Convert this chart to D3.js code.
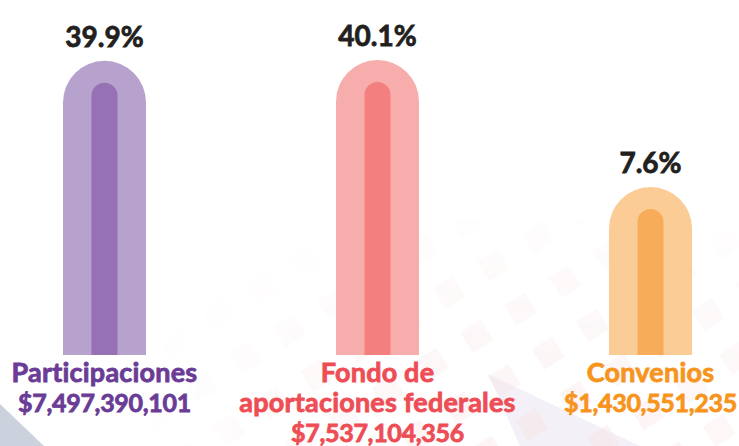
<!DOCTYPE html>
<html>
<head>
<meta charset="utf-8">
<script src="https://cdn.jsdelivr.net/npm/d3@7/dist/d3.min.js"></script>
<style>
  html, body { margin: 0; padding: 0; background: #ffffff; }
  svg { display: block; }
  text { font-family: Lato, "Open Sans", sans-serif; font-weight: 700; }
</style>
</head>
<body>
<div id="chart"></div>
<script>
var categories = ["Participaciones", "Fondo de aportaciones federales", "Convenios"];
var labelLines = [["Participaciones"], ["Fondo de", "aportaciones federales"], ["Convenios"]];
var amounts = ["$7,497,390,101", "$7,537,104,356", "$1,430,551,235"];
var percents = [39.9, 40.1, 7.6];

var outerColors = ["#b39dca", "#f7a9a8", "#fbc990"];
var innerColors = ["#946fb2", "#f27c7c", "#f7aa55"];
var textColors = ["#6a3c96", "#ee4d55", "#f7941d"];

function init() {
    var w = 739;
    var h = 446;
    var baseY = 355;
    var outerW = 83;
    var innerW = 26;
    var innerGap = 22;

    var svg = d3.select("#chart")
        .append("svg")
        .attr("width", w)
        .attr("height", h);

    // faint background decoration (not data)
    var defs = svg.append("defs");
    var pat = defs.append("pattern")
        .attr("id", "diamonds")
        .attr("width", 52)
        .attr("height", 52)
        .attr("patternUnits", "userSpaceOnUse")
        .attr("patternTransform", "rotate(-32)");
    pat.append("rect").attr("x", 6).attr("y", 6).attr("width", 24).attr("height", 24)
        .attr("fill", "#f8e2e4");
    var grad = defs.append("radialGradient").attr("id", "fade")
        .attr("cx", "0.75").attr("cy", "1").attr("r", "0.6");
    grad.append("stop").attr("offset", "0").attr("stop-color", "#fff").attr("stop-opacity", 0.45);
    grad.append("stop").attr("offset", "1").attr("stop-color", "#fff").attr("stop-opacity", 0);
    var mask = defs.append("mask").attr("id", "fadeMask");
    mask.append("rect").attr("width", w).attr("height", h).attr("fill", "url(#fade)");

    svg.append("path")
        .attr("d", "M0,404 L0," + h + " L44," + h + " Z")
        .attr("fill", "#cbd2de");
    svg.append("path")
        .attr("d", "M488,374 L640," + h + " L520," + h + " Z")
        .attr("fill", "#f3f1f7");
    svg.append("rect")
        .attr("x", 150).attr("y", 220).attr("width", w - 150).attr("height", h - 220)
        .attr("fill", "url(#diamonds)")
        .attr("mask", "url(#fadeMask)");

    var xScale = d3.scalePoint()
        .domain(categories)
        .range([104.5, 650.5]);

    // the infographic does not start its bars at zero
    var yScale = d3.scaleLinear()
        .domain([-35.4, 40.1])
        .range([baseY, 60]);

    function roundTop(cx, width, top) {
        var r = width / 2;
        return "M" + (cx - r) + "," + baseY +
            "V" + (top + r) +
            "A" + r + "," + r + " 0 0 1 " + (cx + r) + "," + (top + r) +
            "V" + baseY + "Z";
    }

    var bars = svg.selectAll("g.bar")
        .data(categories)
        .enter()
        .append("g")
        .attr("class", "bar");

    bars.append("path")
        .attr("d", function (d, i) { return roundTop(xScale(d), outerW, yScale(percents[i])); })
        .attr("fill", function (d, i) { return outerColors[i]; })
        .attr("opacity", 0.95);

    bars.append("path")
        .attr("d", function (d, i) { return roundTop(xScale(d), innerW, yScale(percents[i]) + innerGap); })
        .attr("fill", function (d, i) { return innerColors[i]; })
        .attr("opacity", 0.95);

    bars.append("text")
        .attr("x", function (d) { return xScale(d); })
        .attr("y", function (d, i) { return yScale(percents[i]) - 14; })
        .attr("text-anchor", "middle")
        .attr("font-size", 28)
        .attr("fill", "#231f20")
        .attr("stroke", "#231f20")
        .attr("stroke-width", 0.8)
        .text(function (d, i) { return percents[i].toFixed(1) + "%"; });

    bars.each(function (d, i) {
        var g = d3.select(this);
        var lines = labelLines[i].concat([amounts[i]]);
        g.selectAll("text.lbl")
            .data(lines)
            .enter()
            .append("text")
            .attr("class", "lbl")
            .attr("x", xScale(d))
            .attr("y", function (t, j) { return 382 + j * 30; })
            .attr("text-anchor", "middle")
            .attr("font-size", function (t, j) { return j === lines.length - 1 ? 25 : 27; })
            .attr("letter-spacing", function (t, j) { return j === lines.length - 1 ? -0.3 : 0.2; })
            .attr("fill", textColors[i])
            .attr("stroke", textColors[i])
            .attr("stroke-width", 0.8)
            .text(function (t) { return t; });
    });
}

window.onload = init;
</script>
</body>
</html>
